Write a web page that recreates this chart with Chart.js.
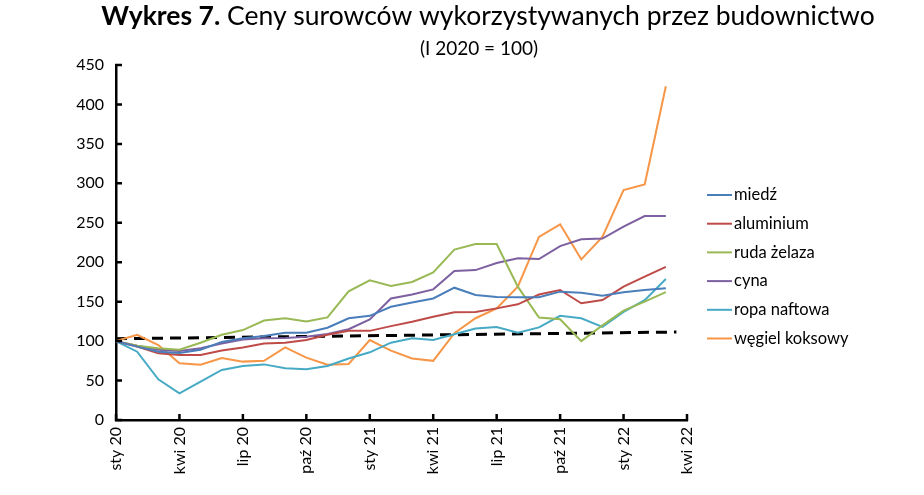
<!DOCTYPE html>
<html><head><meta charset="utf-8">
<script src="https://cdn.jsdelivr.net/npm/chart.js@4.4.1/dist/chart.umd.min.js"></script>
<style>html,body{margin:0;padding:0;background:#fff}#wrap{width:924px;height:495px;position:relative}</style>
</head><body><div id="wrap"><canvas id="c"></canvas></div>
<script>
// ---- text ----
const titleBold = 'Wykres 7.';
const titleRest = ' Ceny surowców wykorzystywanych przez budownictwo';
const subtitleText = '(I 2020 = 100)';
const xTickLabels = ['sty 20','kwi 20','lip 20','paź 20','sty 21','kwi 21','lip 21','paź 21','sty 22','kwi 22'];
const seriesNames = ['miedź','aluminium','ruda żelaza','cyna','ropa naftowa','węgiel koksowy'];

// ---- monthly values, I 2020 .. III 2022 (I 2020 = 100) ----
const miedz   = [100, 93, 86.6, 85, 89, 99, 103.5, 106.5, 110.7, 110.7, 117, 129, 132, 143.6, 149, 154, 167.7, 158.4, 156, 155.5, 155.5, 162.7, 161.4, 157.6, 161.8, 164.8, 167];
const aluminium = [100, 93, 84.5, 82.4, 82.4, 88, 92, 97, 98, 101.4, 108, 113, 113, 119, 124.6, 131, 136.5, 137, 141.5, 146.6, 159, 164.8, 148, 152, 169, 181.7, 194];
const rudaZelaza = [100, 94, 91, 89, 98, 108, 114, 126, 129, 125, 130, 163, 177, 170, 175, 187, 216, 223, 223, 169, 130, 127.6, 100, 120, 138.6, 150, 162];
const cyna    = [100, 94, 89, 87.5, 91, 97, 102, 103.5, 104, 105.6, 109, 115, 127.6, 154, 159, 165.6, 189, 190, 199, 205, 204, 220.5, 229, 230, 245, 258.6, 258.6];
const ropa    = [100, 86.6, 51.5, 33.8, 48.6, 63.4, 68.4, 70.5, 65.5, 64.2, 68.4, 78, 85.8, 98, 103.5, 101.4, 108.6, 116, 118, 110.7, 117.4, 132, 129, 118, 137, 152, 178.7];
const wegiel  = [100, 108, 95, 72, 70, 78.5, 74, 75, 92, 79, 70, 71, 101.4, 88, 78, 75, 110, 129, 141.5, 169, 232, 248, 203.6, 232, 291.5, 298.7, 423];
// dashed reference line (start / end)
const trendX = [0, 26.5];
const trendY = [103, 111.5];

const seriesValues = [miedz, aluminium, rudaZelaza, cyna, ropa, wegiel];
const seriesColors = ['#4A7EBB', '#BE4B48', '#98B954', '#7D60A0', '#46AAC5', '#F79646'];

const FONT = 'Lato, "Open Sans", sans-serif';

const datasets = seriesValues.map((vals, k) => ({
  label: seriesNames[k],
  data: vals.map((v, i) => ({x: i, y: v})),
  borderColor: seriesColors[k],
  backgroundColor: seriesColors[k],
  borderWidth: 2,
  pointRadius: 0,
  tension: 0,
  fill: false
}));
datasets.push({
  label: '__trend',
  data: trendX.map((x, i) => ({x: x, y: trendY[i]})),
  borderColor: '#000',
  borderWidth: 3,
  borderDash: [11, 7],
  pointRadius: 0,
  tension: 0,
  fill: false
});

const titlePlugin = {
  id: 'mixedTitle',
  afterDraw(chart) {
    const ctx = chart.ctx;
    ctx.save();
    ctx.fillStyle = '#000';
    ctx.textBaseline = 'alphabetic';
    const bFont = 'bold 26.5px ' + FONT, rFont = '26.5px ' + FONT;
    ctx.font = bFont; const wb = ctx.measureText(titleBold).width;
    ctx.font = rFont; const wr = ctx.measureText(titleRest).width;
    const cx = 488, x0 = cx - (wb + wr) / 2;
    ctx.textAlign = 'left';
    ctx.font = bFont; ctx.fillText(titleBold, x0, 25);
    ctx.font = rFont; ctx.fillText(titleRest, x0 + wb, 25);
    ctx.font = '19px ' + FONT; ctx.textAlign = 'center';
    ctx.fillText(subtitleText, 479, 55);
    ctx.restore();
  }
};

const legendPlugin = {
  id: 'sideLegend',
  afterDraw(chart) {
    const ctx = chart.ctx;
    ctx.save();
    ctx.font = '16.5px ' + FONT;
    ctx.textBaseline = 'middle';
    ctx.textAlign = 'left';
    chart.data.datasets.forEach((ds, i) => {
      if (ds.label === '__trend') return;
      const y = 195 + i * 28.7;
      ctx.strokeStyle = ds.borderColor; ctx.lineWidth = 2;
      ctx.beginPath(); ctx.moveTo(707, y); ctx.lineTo(732, y); ctx.stroke();
      ctx.fillStyle = '#000';
      ctx.fillText(ds.label, 734, y);
    });
    ctx.restore();
  }
};

const innerTicks = {
  id: 'innerTicks',
  afterDraw(chart) {
    const ctx = chart.ctx, xs = chart.scales.x, ys = chart.scales.y;
    ctx.save();
    ctx.strokeStyle = '#000'; ctx.lineWidth = 2.5;
    ctx.beginPath();
    ys.ticks.forEach(t => { const y = ys.getPixelForValue(t.value); ctx.moveTo(ys.right - 1, y); ctx.lineTo(ys.right + 6, y); });
    xs.ticks.forEach(t => { const x = xs.getPixelForValue(t.value); ctx.moveTo(x, xs.top + 1); ctx.lineTo(x, xs.top - 6); });
    ctx.stroke();
    ctx.restore();
  }
};

new Chart(document.getElementById('c'), {
  type: 'line',
  data: { datasets },
  options: {
    responsive: true,
    maintainAspectRatio: false,
    animation: false,
    layout: { padding: { top: 65, right: 237, left: 0, bottom: 0 } },
    plugins: { legend: { display: false }, title: { display: false }, tooltip: { enabled: false } },
    scales: {
      x: {
        type: 'linear', min: 0, max: 27,
        grid: { display: false, drawTicks: false },
        border: { display: true, color: '#000', width: 2.5 },
        ticks: {
          stepSize: 3, autoSkip: false, minRotation: 90, maxRotation: 90, padding: 7,
          color: '#000', font: { family: FONT, size: 16 },
          callback: (v) => xTickLabels[Math.round(v / 3)]
        },
        afterFit(scale) { scale.height = 75; }
      },
      y: {
        min: 0, max: 450,
        grid: { display: false, drawTicks: false },
        border: { display: true, color: '#000', width: 2.5 },
        ticks: { stepSize: 50, padding: 12, color: '#000', font: { family: FONT, size: 16 } },
        afterFit(scale) { scale.width = 116; }
      }
    }
  },
  plugins: [titlePlugin, legendPlugin, innerTicks]
});
</script>
</body></html>
